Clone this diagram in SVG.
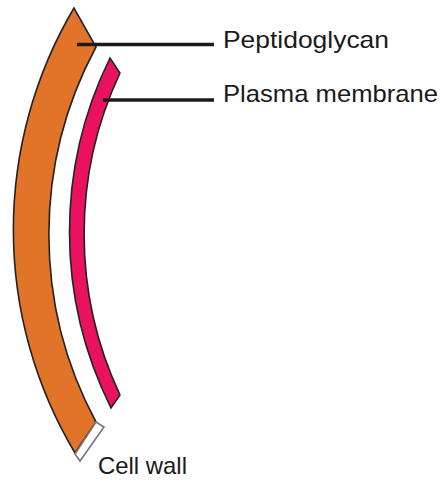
<svg xmlns="http://www.w3.org/2000/svg" width="442" height="487" viewBox="0 0 442 487">
  <style>
    .label { font-family: "Liberation Sans", Arial, sans-serif; font-size: 24px; fill: #1a1a1a; }
    .wall { fill: #E17428; stroke: #222; stroke-width: 1.6; stroke-linejoin: miter; }
    .membrane { fill: #EA1260; stroke: #222; stroke-width: 1.6; stroke-linejoin: miter; }
    .edge { fill: #fff; stroke: #777; stroke-width: 1.6; }
    .leader { stroke: #1a1a1a; stroke-width: 3.5; fill: none; }
  </style>
  <rect width="442" height="487" fill="#fff"/>

  <!-- peptidoglycan layer: curved band -->
  <g id="peptidoglycan">
    <path class="wall" d="M74,8 A435.6,435.6 0 0 0 75,453 L96,422 A396.6,396.6 0 0 1 96,47 Z"/>
  </g>

  <!-- outer rim of the cell wall at the cut end -->
  <g id="cell-wall">
    <path class="edge" d="M96,422 L104,427 L80,461 L75,454 Z"/>
  </g>

  <!-- plasma membrane: thinner band inside the wall -->
  <g id="plasma-membrane">
    <path class="membrane" d="M110,58 A394,394 0 0 0 111,408 L120,395 A379,379 0 0 1 120,73 Z"/>
  </g>

  <!-- leader lines -->
  <g id="connectors">
    <line class="leader" x1="77" y1="44.5" x2="214" y2="44.5"/>
    <line class="leader" x1="103" y1="100" x2="214" y2="100"/>
  </g>

  <!-- labels -->
  <g id="label-peptidoglycan">
    <text class="label" x="223" y="48" textLength="166" lengthAdjust="spacingAndGlyphs">Peptidoglycan</text>
  </g>
  <g id="label-plasma-membrane">
    <text class="label" x="223" y="102" textLength="215" lengthAdjust="spacingAndGlyphs">Plasma membrane</text>
  </g>
  <g id="label-cell-wall">
    <text class="label" x="98" y="474" textLength="89" lengthAdjust="spacingAndGlyphs">Cell wall</text>
  </g>
</svg>
